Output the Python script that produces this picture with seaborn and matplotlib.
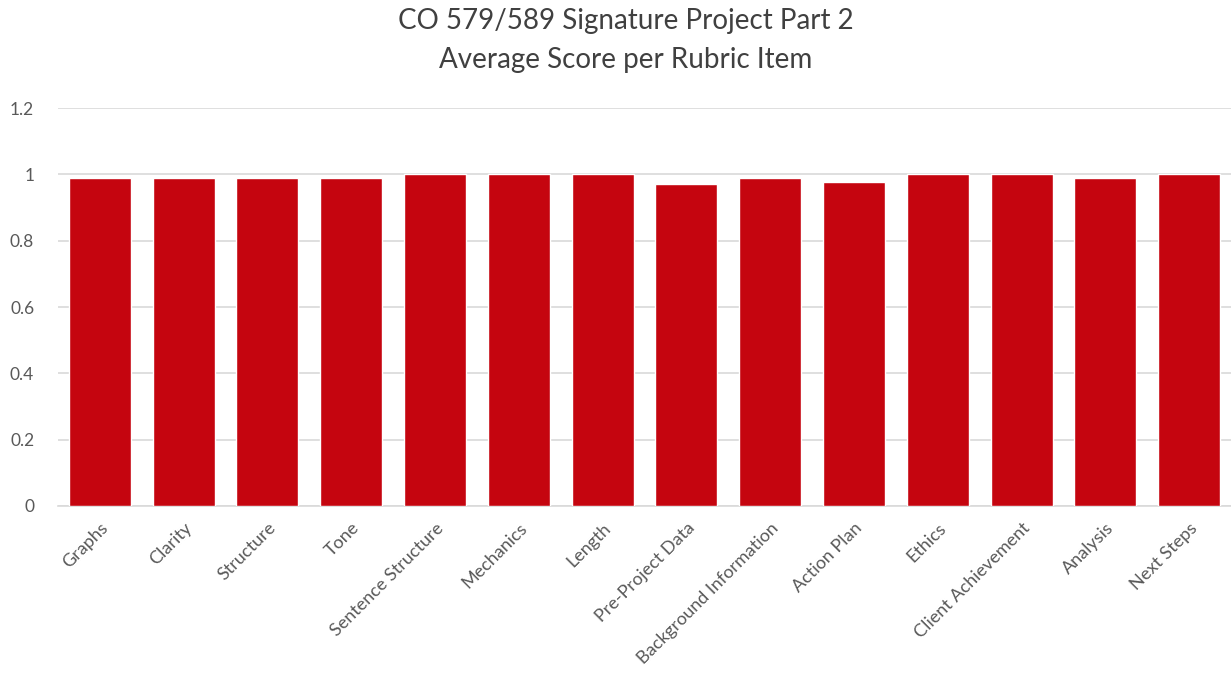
import matplotlib
matplotlib.use("Agg")
import matplotlib.pyplot as plt
import seaborn as sns
import pandas as pd

categories = ["Graphs", "Clarity", "Structure", "Tone", "Sentence Structure", "Mechanics",
              "Length", "Pre-Project Data", "Background Information", "Action Plan", "Ethics",
              "Client Achievement", "Analysis", "Next Steps"]
scores = [0.99, 0.99, 0.99, 0.99, 1.0, 1.0, 1.0, 0.97, 0.99, 0.977, 1.0, 1.0, 0.99, 1.0]
yticks = [0, 0.2, 0.4, 0.6, 0.8, 1, 1.2]
ytick_labels = ["0", "0.2", "0.4", "0.6", "0.8", "1", "1.2"]

sns.set_theme(style="white")
plt.rcParams['font.family'] = ['Lato', 'DejaVu Sans']

df = pd.DataFrame({"item": categories, "score": scores})

fig = plt.figure(figsize=(12.31, 6.80), dpi=100)
ax = fig.add_axes([0.047, 0.256, 0.953, 0.585])
sns.barplot(data=df, x="item", y="score", color="#C5050F", saturation=1, width=0.74, ax=ax, zorder=3)

ax.set_ylim(0, 1.2)
ax.set_yticks(yticks)
ax.set_yticklabels(ytick_labels, fontsize=12.5, color="#595959")
ax.yaxis.grid(True, color="#D9D9D9", linewidth=1.2, zorder=0)
ax.set_axisbelow(True)
ax.set_xlim(-0.5, len(categories) - 0.5)
ax.set_xlabel("")
ax.set_ylabel("")
ax.set_xticks(range(len(categories)))
ax.set_xticklabels(categories, rotation=45, ha="right", rotation_mode="anchor",
                   fontsize=13, color="#595959")
ax.tick_params(axis="x", length=0, pad=10)
ax.tick_params(axis="y", length=0, pad=17)
for s in ["top", "right", "left"]:
    ax.spines[s].set_visible(False)
ax.spines["bottom"].set_color("#D9D9D9")
ax.spines["bottom"].set_linewidth(1.2)

fig.text(0.508, 0.988, "CO 579/589 Signature Project Part 2\nAverage Score per Rubric Item",
         ha="center", va="top", fontsize=20, color="#404040", linespacing=1.6)

fig.savefig("out.png", dpi=100, facecolor="white")
